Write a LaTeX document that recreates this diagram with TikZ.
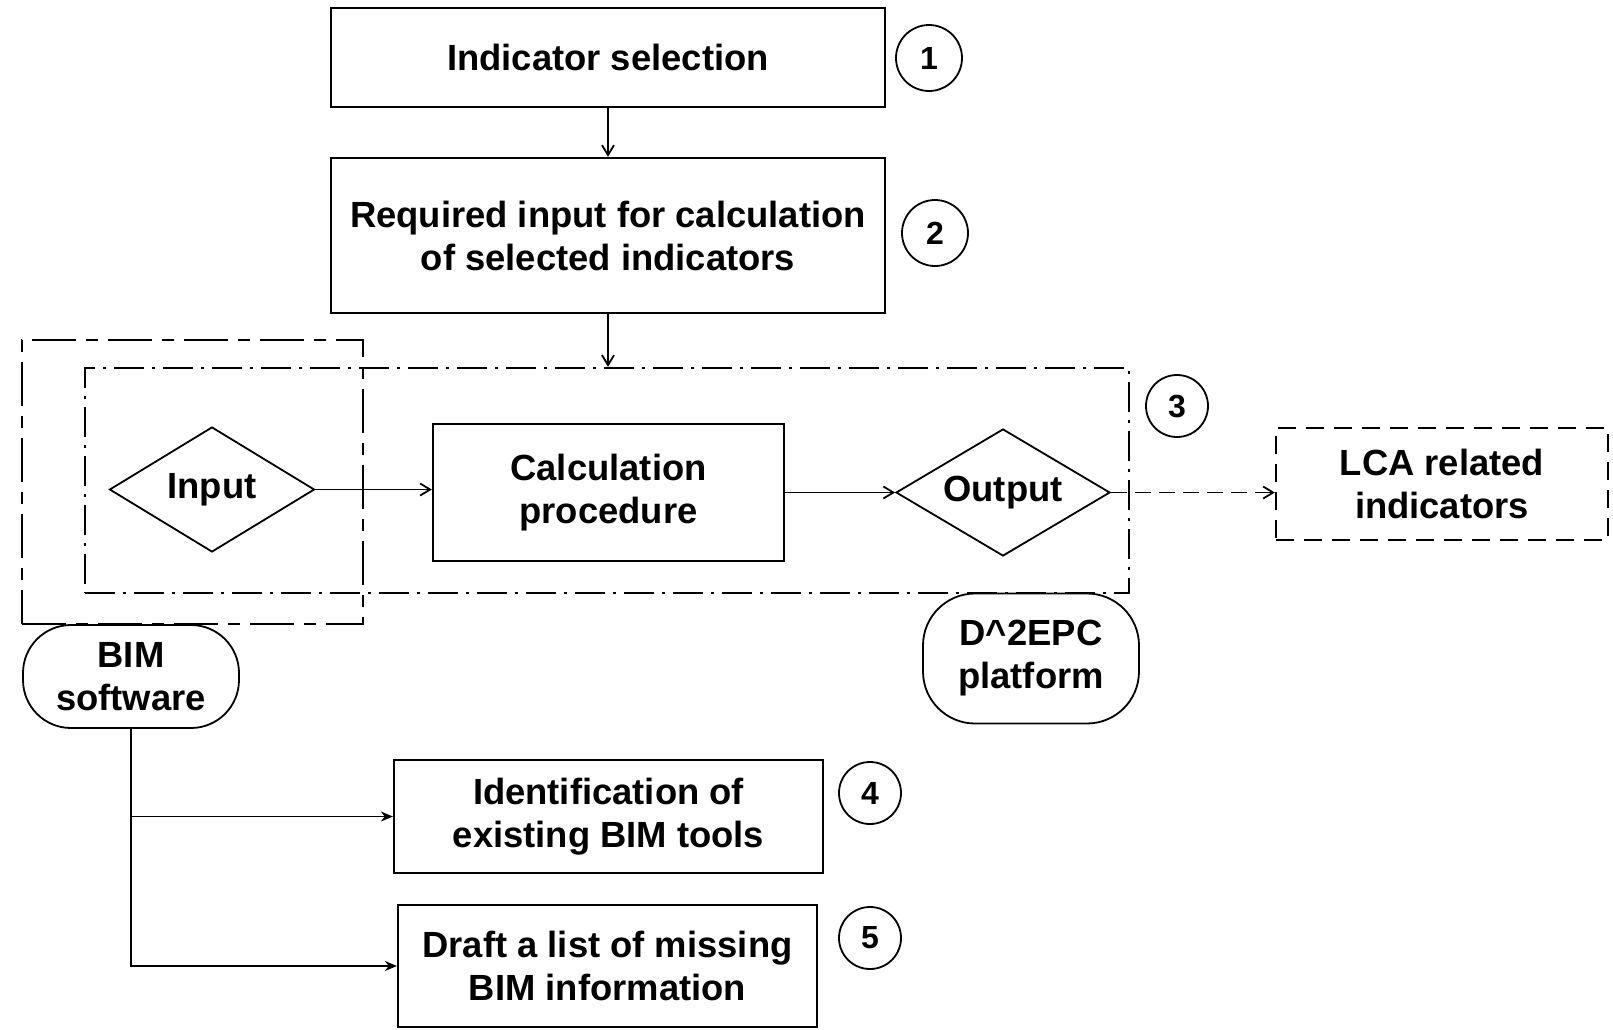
\documentclass[tikz,border=0pt]{standalone}
\usepackage{fontspec}
\setmainfont{Liberation Sans}
\usetikzlibrary{arrows.meta,shapes.geometric}
\tikzset{
  lbl/.style={font=\fontsize{18.2}{21.5}\selectfont\bfseries, align=center, inner sep=0pt, line width=1.1pt},
  boxnode/.style={lbl, draw, rectangle},
  dia/.style={lbl, draw, diamond, line width=0.9pt},
  pill/.style={lbl, draw, rectangle, line width=0.9pt},
  numc/.style={draw, circle, line width=0.9pt, inner sep=0pt, minimum size=33pt, font=\fontsize{16}{16}\selectfont\bfseries},
  outerdash/.style={draw, rectangle, line width=1.1pt, dash pattern=on 22pt off 5pt on 6pt off 5pt},
  innerdash/.style={draw, rectangle, line width=1.1pt, dash pattern=on 15pt off 4pt on 1.5pt off 4pt},
  lcadash/.style={draw, rectangle, line width=1.1pt, dash pattern=on 9pt off 5pt},
  conn/.style={line width=0.9pt, -{Straight Barb[length=5pt,width=6pt]}},
  conns/.style={line width=0.9pt, -{Stealth[length=6pt,width=5pt]}}
}
\begin{document}
\begin{tikzpicture}[x=0.5pt,y=-0.5pt]
\fill[white] (0,0) rectangle (1613,1029);
\useasboundingbox (0,0) rectangle (1613,1029);

% containers
\node[outerdash, minimum width=170.5pt, minimum height=142pt] (bimbox) at (192.5,482) {};
\node[innerdash, minimum width=522pt, minimum height=112.5pt] (platbox) at (607,480.5) {};

% top boxes
\node[boxnode, minimum width=277pt, minimum height=49.5pt] (b1) at (608,57.5) {Indicator selection};
\node[boxnode, minimum width=277pt, minimum height=77.5pt] (b2) at (608,235.5) {Required input for calculation\\of selected indicators};

% process row
\node[dia, aspect=1.64, minimum width=102.5pt, minimum height=62.5pt] (inp) at (212,489.5) {Input};
\node[boxnode, minimum width=175.5pt, minimum height=68.5pt] (calc) at (608.5,492.5) {Calculation\\procedure};
\node[dia, aspect=1.68, minimum width=107pt, minimum height=63.5pt] (outp) at (1003,492.5) {Output};
\node[lbl, lcadash, minimum width=166pt, minimum height=56pt] (lca) at (1442,484) {LCA related\\indicators};

% platform labels
\node[pill, rounded corners=24pt, minimum width=108pt, minimum height=51.5pt] (bimsw) at (131,676.5) {BIM\\software};
\node[pill, rounded corners=26pt, minimum width=108pt, minimum height=65pt] (d2epc) at (1031,658.5) {D\textasciicircum 2EPC\\platform};

% bottom boxes
\node[boxnode, minimum width=214.5pt, minimum height=56.5pt] (b4) at (608.5,816.5) {Identification of\\existing BIM tools};
\node[boxnode, minimum width=209.5pt, minimum height=61pt] (b5) at (607.5,966) {Draft a list of missing\\BIM information};

% step numbers
\node[numc] (n1) at (929,58) {1};
\node[numc] (n2) at (935,233) {2};
\node[numc, minimum size=31pt] (n3) at (1177,406) {3};
\node[numc, minimum size=31pt] (n4) at (870,793) {4};
\node[numc, minimum size=31pt] (n5) at (870,938) {5};

% connectors
\draw[conn] (b1.south) -- (b2.north);
\draw[conn] (b2.south) -- (b2.south |- platbox.north);
\draw[conn] (inp.east) -- (inp.east -| calc.west);
\draw[conn] (calc.east) -- (calc.east -| outp.west);
\draw[conn, dash pattern=on 8pt off 4pt] (outp.east) -- (outp.east -| lca.west);
\coordinate (j4) at (bimsw.south |- b4.west);
\draw[line width=0.9pt] (bimsw.south) -- (j4);
\draw[conns] (j4) -- (b4.west);
\draw[conns] (bimsw.south) |- (b5.west);
\end{tikzpicture}
\end{document}
